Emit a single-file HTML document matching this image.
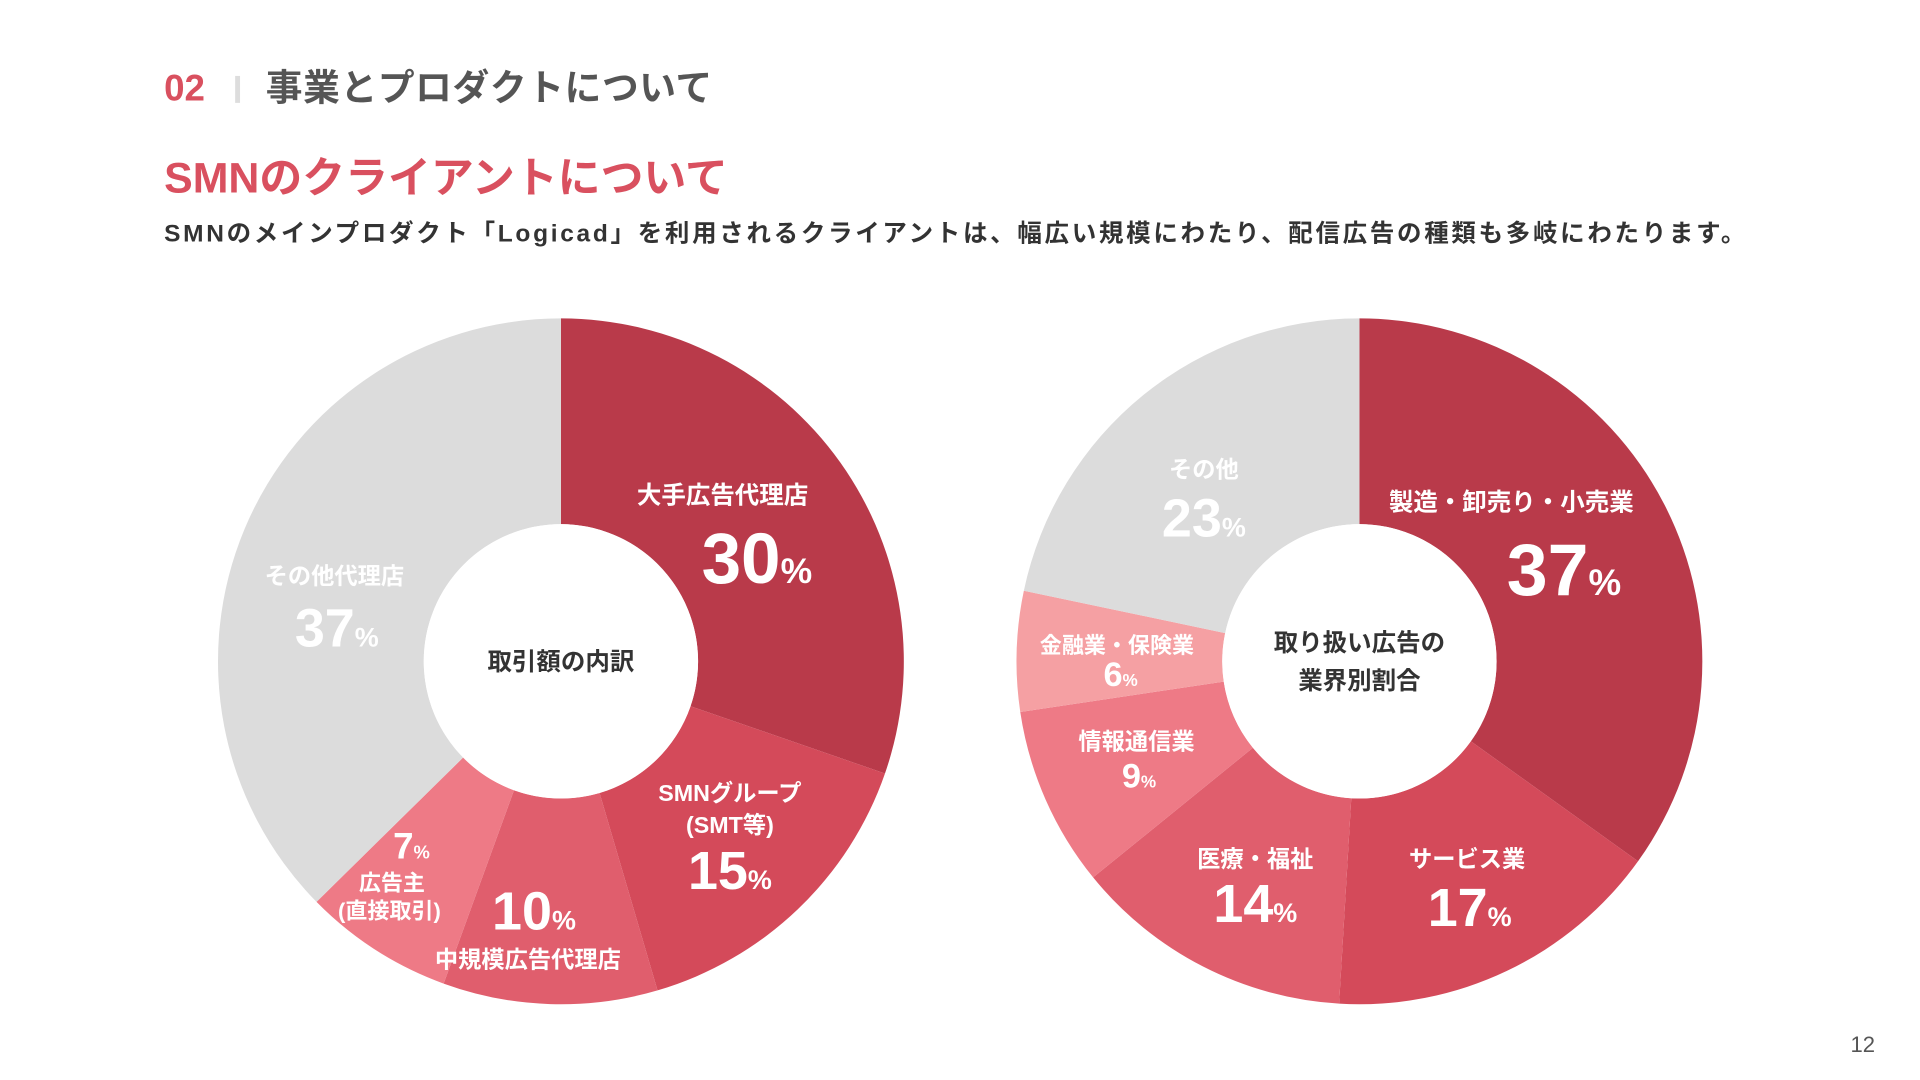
<!DOCTYPE html>
<html><head><meta charset="utf-8"><style>
html,body{margin:0;padding:0;width:1920px;height:1080px;overflow:hidden;background:#fff}
#stage{position:absolute;left:0;top:0;width:1568px;height:882px;transform:scale(1.2247);transform-origin:0 0;font-family:"Liberation Sans","Noto Sans CJK JP",sans-serif}
.t{position:absolute;white-space:nowrap;font-weight:bold;line-height:1}
</style></head><body>
<div id="stage">
<div class="t" style="left:134px;top:58px;font-size:30px;color:#d9505f">02</div>
<div style="position:absolute;left:192px;top:62px;width:4px;height:22px;background:#ddd"></div>
<div class="t" style="left:217px;top:58px;font-size:30px;color:#555;letter-spacing:0.5px">事業とプロダクトについて</div>
<div class="t" style="left:134px;top:128px;font-size:35px;color:#d9505f">SMNのクライアントについて</div>
<div class="t" style="left:134px;top:181px;font-size:20px;color:#333;letter-spacing:2.2px">SMNのメインプロダクト「Logicad」を利用されるクライアントは、幅広い規模にわたり、配信広告の種類も多岐にわたります。</div>
<svg id="chart" width="1568" height="882" style="position:absolute;left:0;top:0"></svg>
<div class="t" style="left:1511px;top:844px;font-size:18px;font-weight:normal;color:#555">12</div>
</div>
<script>
const leftCategories=["大手広告代理店","SMNグループ(SMT等)","中規模広告代理店","広告主(直接取引)","その他代理店"];
const leftValues=[30,15,10,7,37];
const rightCategories=["製造・卸売り・小売業","サービス業","医療・福祉","情報通信業","金融業・保険業","その他"];
const rightValues=[37,17,14,9,6,23];
const leftColors=["#b93a4a","#d44a5a","#e05e6d","#ee7a86","#dcdcdc"];
const rightColors=["#b93a4a","#d44a5a","#e05e6d","#ee7a86","#f5a0a3","#dcdcdc"];
const NS="http://www.w3.org/2000/svg";
const svg=document.getElementById('chart');
function pt(cx,cy,r,a){return [cx+r*Math.sin(a),cy-r*Math.cos(a)];}
function donut(cx,cy,R,r,vals,cols,name,labels){
  const tot=vals.reduce((a,b)=>a+b,0);let acc=0;
  vals.forEach((v,i)=>{
    const a0=acc/tot*2*Math.PI;acc+=v;const a1=acc/tot*2*Math.PI;
    const L=(a1-a0)>Math.PI?1:0;
    const p0=pt(cx,cy,R,a0),p1=pt(cx,cy,R,a1),q1=pt(cx,cy,r,a1),q0=pt(cx,cy,r,a0);
    const p=document.createElementNS(NS,'path');
    p.setAttribute('d',`M${p0}A${R},${R} 0 ${L} 1 ${p1}L${q1}A${r},${r} 0 ${L} 0 ${q0}Z`);
    p.setAttribute('fill',cols[i]);
    
    
    svg.appendChild(p);
  });
  const c=document.createElementNS(NS,'circle');
  c.setAttribute('cx',cx);c.setAttribute('cy',cy);c.setAttribute('r',r);c.setAttribute('fill','#fff');
  
  
  svg.appendChild(c);
  labels.forEach((t,i)=>{
    const e=document.createElementNS(NS,'text');
    e.setAttribute('x',cx);e.setAttribute('y',cy+(i-(labels.length-1)/2)*31+7);
    e.setAttribute('text-anchor','middle');e.setAttribute('font-size','20');e.setAttribute('font-weight','bold');e.setAttribute('fill','#333');
    e.textContent=t;
    
    
    svg.appendChild(e);
  });
}
donut(458,540,280,112,leftValues,leftColors,'left-donut',["取引額の内訳"]);
donut(1110,540,280,112,rightValues,rightColors,'right-donut',["取り扱い広告の","業界別割合"]);
function txt(x,y,s,size,name){
  const t=document.createElementNS(NS,'text');
  t.setAttribute('x',x);t.setAttribute('y',y);t.setAttribute('text-anchor','middle');
  t.setAttribute('font-size',size);t.setAttribute('font-weight','bold');t.setAttribute('fill','#fff');
  t.textContent=s;
  
  
  svg.appendChild(t);
}
function val(x,y,v,size,name){
  const t=document.createElementNS(NS,'text');
  t.setAttribute('x',x);t.setAttribute('y',y);t.setAttribute('text-anchor','middle');
  t.setAttribute('font-size',size);t.setAttribute('font-weight','bold');t.setAttribute('fill','#fff');
  const a=document.createElementNS(NS,'tspan');a.textContent=v;
  const b=document.createElementNS(NS,'tspan');b.setAttribute('font-size',size*0.5);b.textContent='%';
  t.appendChild(a);t.appendChild(b);
  
  
  svg.appendChild(t);
}
txt(590,411,"大手広告代理店",20,'label-large-agency');
val(618,476,leftValues[0],58,'value-large-agency');
txt(273,477,"その他代理店",19,'label-other-agency');
val(275,528,leftValues[4],44,'value-other-agency');
txt(596,654,"SMNグループ",19,'label-smn-group');
txt(596,680,"(SMT等)",19,'label-smt');
val(596,726,leftValues[1],44,'value-smn-group');
val(436,759,leftValues[2],44,'value-mid-agency');
txt(431,790,"中規模広告代理店",19,'label-mid-agency');
val(336,701,leftValues[3],30,'value-advertiser');
txt(320,727,"広告主",18,'label-advertiser');
txt(318,750,"(直接取引)",18,'label-direct');
txt(983,390,"その他",19,'label-other');
val(983,438,rightValues[5],44,'value-other');
txt(1234,417,"製造・卸売り・小売業",20,'label-manufacturing');
val(1277,486,rightValues[0],60,'value-manufacturing');
txt(912,533,"金融業・保険業",18,'label-finance');
val(915,560,rightValues[4],28,'value-finance');
txt(928,612,"情報通信業",19,'label-it');
val(930,643,rightValues[3],28,'value-it');
txt(1025,708,"医療・福祉",19,'label-medical');
val(1025,753,rightValues[2],44,'value-medical');
txt(1198,708,"サービス業",19,'label-service');
val(1200,756,rightValues[1],44,'value-service');
</script>
</body></html>
